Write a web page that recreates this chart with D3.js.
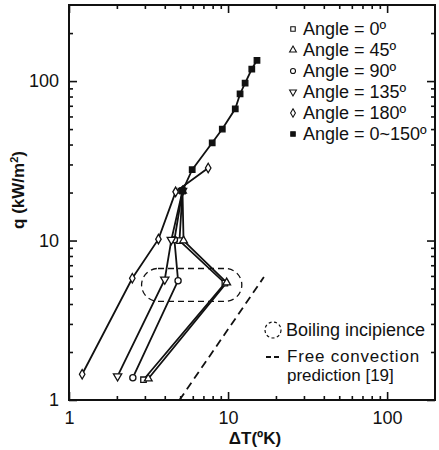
<!DOCTYPE html>
<html>
<head>
<meta charset="utf-8">
<script src="https://cdn.jsdelivr.net/npm/d3@7"></script>
<style>
  body { margin: 0; background: #fff; }
  text { font-family: "Liberation Sans", Arial, sans-serif; fill: #111; }
</style>
</head>
<body>
<div id="chart"></div>
<script>
// data: [deltaT (K), q (kW/m2)]
var angle0 = [[2.94, 1.34], [9.55, 5.4], [4.95, 10.0], [5.17, 20.5]];
var angle45 = [[3.15, 1.36], [9.8, 5.45], [5.25, 10.0], [5.17, 20.5]];
var angle90 = [[2.52, 1.38], [4.85, 5.6], [4.6, 10.1], [5.17, 20.5]];
var angle135 = [[2.02, 1.41], [4.0, 5.7], [4.4, 10.1], [5.17, 20.5]];
var angle180 = [[1.21, 1.45], [2.5, 5.8], [3.65, 10.2], [4.68, 20.2], [7.5, 28.5]];
var angleAll = [[5.17, 20.5], [5.95, 27.8], [7.95, 41], [9.2, 50], [11.1, 67],
                [11.9, 83], [12.8, 97], [14.1, 119], [15.2, 135]];
var freeConv = [[4.95, 1], [16.8, 5.9]];
// boiling incipience region: deltaT range, q range
var incipX = [2.86, 12.2];
var incipY = [4.16, 6.68];

var xMajor = [1, 10, 100];
var xMinor = [2, 3, 4, 5, 6, 7, 8, 9, 20, 30, 40, 50, 60, 70, 80, 90];
var yMajor = [1, 10, 100];
var yMinor = [2, 3, 4, 5, 6, 7, 8, 9, 20, 30, 40, 50, 60, 70, 80, 90, 200];

var legendNames = ["Angle = 0º", "Angle = 45º", "Angle = 90º",
                   "Angle = 135º", "Angle = 180º", "Angle = 0~150º"];

var svgWidth = 439, svgHeight = 450;
var margin = {top: 5, right: 4, bottom: 50, left: 69};
var width = svgWidth - margin.left - margin.right;
var height = svgHeight - margin.top - margin.bottom;

var svg = d3.select("#chart").append("svg")
  .attr("width", svgWidth)
  .attr("height", svgHeight);

var chartGroup = svg.append("g")
  .attr("transform", `translate(${margin.left}, ${margin.top})`);

var x = d3.scaleLog().domain([1, 200]).range([0, width]);
var y = d3.scaleLog().domain([1, 300]).range([height, 0]);

// frame
chartGroup.append("rect")
  .attr("width", width).attr("height", height)
  .attr("fill", "none").attr("stroke", "#111").attr("stroke-width", 2);

function drawAxis(axisFn, vals, size, tr, labels) {
  var g = chartGroup.append("g")
    .attr("transform", tr)
    .call(axisFn.tickValues(vals).tickSize(size).tickSizeOuter(0)
      .tickFormat(labels ? d3.format("d") : ""));
  g.select(".domain").remove();
  g.selectAll("line").attr("stroke", "#111").attr("stroke-width", 1.6);
  g.selectAll("text").style("font-size", "18px").attr("fill", "#111");
  return g;
}

// ticks point inward on every side
drawAxis(d3.axisBottom(x), xMajor, -8, `translate(0,${height})`, true)
  .selectAll("text").attr("dy", "1.2em").attr("y", 2);
drawAxis(d3.axisBottom(x), xMinor, -4, `translate(0,${height})`, false);
drawAxis(d3.axisTop(x), xMajor, -8, "translate(0,0)", false);
drawAxis(d3.axisTop(x), xMinor, -4, "translate(0,0)", false);
drawAxis(d3.axisLeft(y), yMajor, -8, "translate(0,0)", true)
  .selectAll("text").attr("x", -10);
drawAxis(d3.axisLeft(y), yMinor, -4, "translate(0,0)", false);
drawAxis(d3.axisRight(y), yMajor, -8, `translate(${width},0)`, false);
drawAxis(d3.axisRight(y), yMinor, -4, `translate(${width},0)`, false);

// axis titles
svg.append("text")
  .attr("x", 255).attr("y", 444)
  .attr("text-anchor", "middle")
  .style("font-size", "17px").style("font-weight", "bold")
  .text("ΔT(ºK)");

svg.append("text")
  .attr("transform", "translate(24,190) rotate(-90)")
  .attr("text-anchor", "middle")
  .style("font-size", "17px").style("font-weight", "bold")
  .html("q   (kW/m<tspan dy='-6' font-size='11px'>2</tspan><tspan dy='6'>)</tspan>");

// boiling incipience region
var rh = y(incipY[0]) - y(incipY[1]);
chartGroup.append("rect")
  .attr("x", x(incipX[0])).attr("y", y(incipY[1]))
  .attr("width", x(incipX[1]) - x(incipX[0]))
  .attr("height", rh)
  .attr("rx", rh / 2).attr("ry", rh / 2)
  .attr("fill", "none").attr("stroke", "#111")
  .attr("stroke-width", 1.3).attr("stroke-dasharray", "6,4");

var line = d3.line().x(d => x(d[0])).y(d => y(d[1]));

// free convection prediction
chartGroup.append("path")
  .datum(freeConv)
  .attr("d", line)
  .attr("fill", "none").attr("stroke", "#111")
  .attr("stroke-width", 1.8).attr("stroke-dasharray", "8,5");

var series = [
  {data: angle0, sym: d3.symbolSquare, size: 30, fill: "#fff"},
  {data: angle45, sym: d3.symbolTriangle, size: 26, fill: "#fff"},
  {data: angle90, sym: d3.symbolCircle, size: 30, fill: "#fff"},
  {data: angle135, sym: d3.symbolTriangle, size: 30, fill: "#fff", rot: 180},
  {data: angle180, sym: d3.symbolDiamond, size: 26, fill: "#fff"},
  {data: angleAll, sym: d3.symbolSquare, size: 30, fill: "#111"}
];

series.forEach(function(s) {
  chartGroup.append("path")
    .datum(s.data)
    .attr("d", line)
    .attr("fill", "none").attr("stroke", "#111").attr("stroke-width", 1.8);
});

series.forEach(function(s) {
  chartGroup.selectAll(null)
    .data(s.data)
    .enter().append("path")
    .attr("d", d3.symbol().type(s.sym).size(s.size))
    .attr("transform", d => `translate(${x(d[0])},${y(d[1])}) rotate(${s.rot || 0})`)
    .attr("fill", s.fill).attr("stroke", "#111").attr("stroke-width", 1.3);
});

// legend
var legend = svg.append("g").attr("transform", "translate(293,29)");
series.forEach(function(s, i) {
  legend.append("path")
    .attr("d", d3.symbol().type(s.sym).size(20))
    .attr("transform", `translate(0,${i * 21}) rotate(${s.rot || 0})`)
    .attr("fill", s.fill).attr("stroke", "#111").attr("stroke-width", 1.1);
  legend.append("text")
    .attr("x", 10).attr("y", i * 21 + 6)
    .style("font-size", "18px")
    .text(legendNames[i]);
});

// legend for the annotations
svg.append("circle")
  .attr("cx", 273).attr("cy", 330).attr("r", 8)
  .attr("fill", "none").attr("stroke", "#111")
  .attr("stroke-width", 1.2).attr("stroke-dasharray", "3,2.5");
svg.append("text").attr("x", 286).attr("y", 336)
  .style("font-size", "18px").text("Boiling incipience");
svg.append("line")
  .attr("x1", 266).attr("x2", 282).attr("y1", 357).attr("y2", 357)
  .attr("stroke", "#111").attr("stroke-width", 1.8).attr("stroke-dasharray", "5,3");
svg.append("text").attr("x", 287).attr("y", 362)
  .style("font-size", "17px").style("letter-spacing", "0.8px").text("Free convection");
svg.append("text").attr("x", 287).attr("y", 381)
  .style("font-size", "17px").text("prediction [19]");
</script>
</body>
</html>
